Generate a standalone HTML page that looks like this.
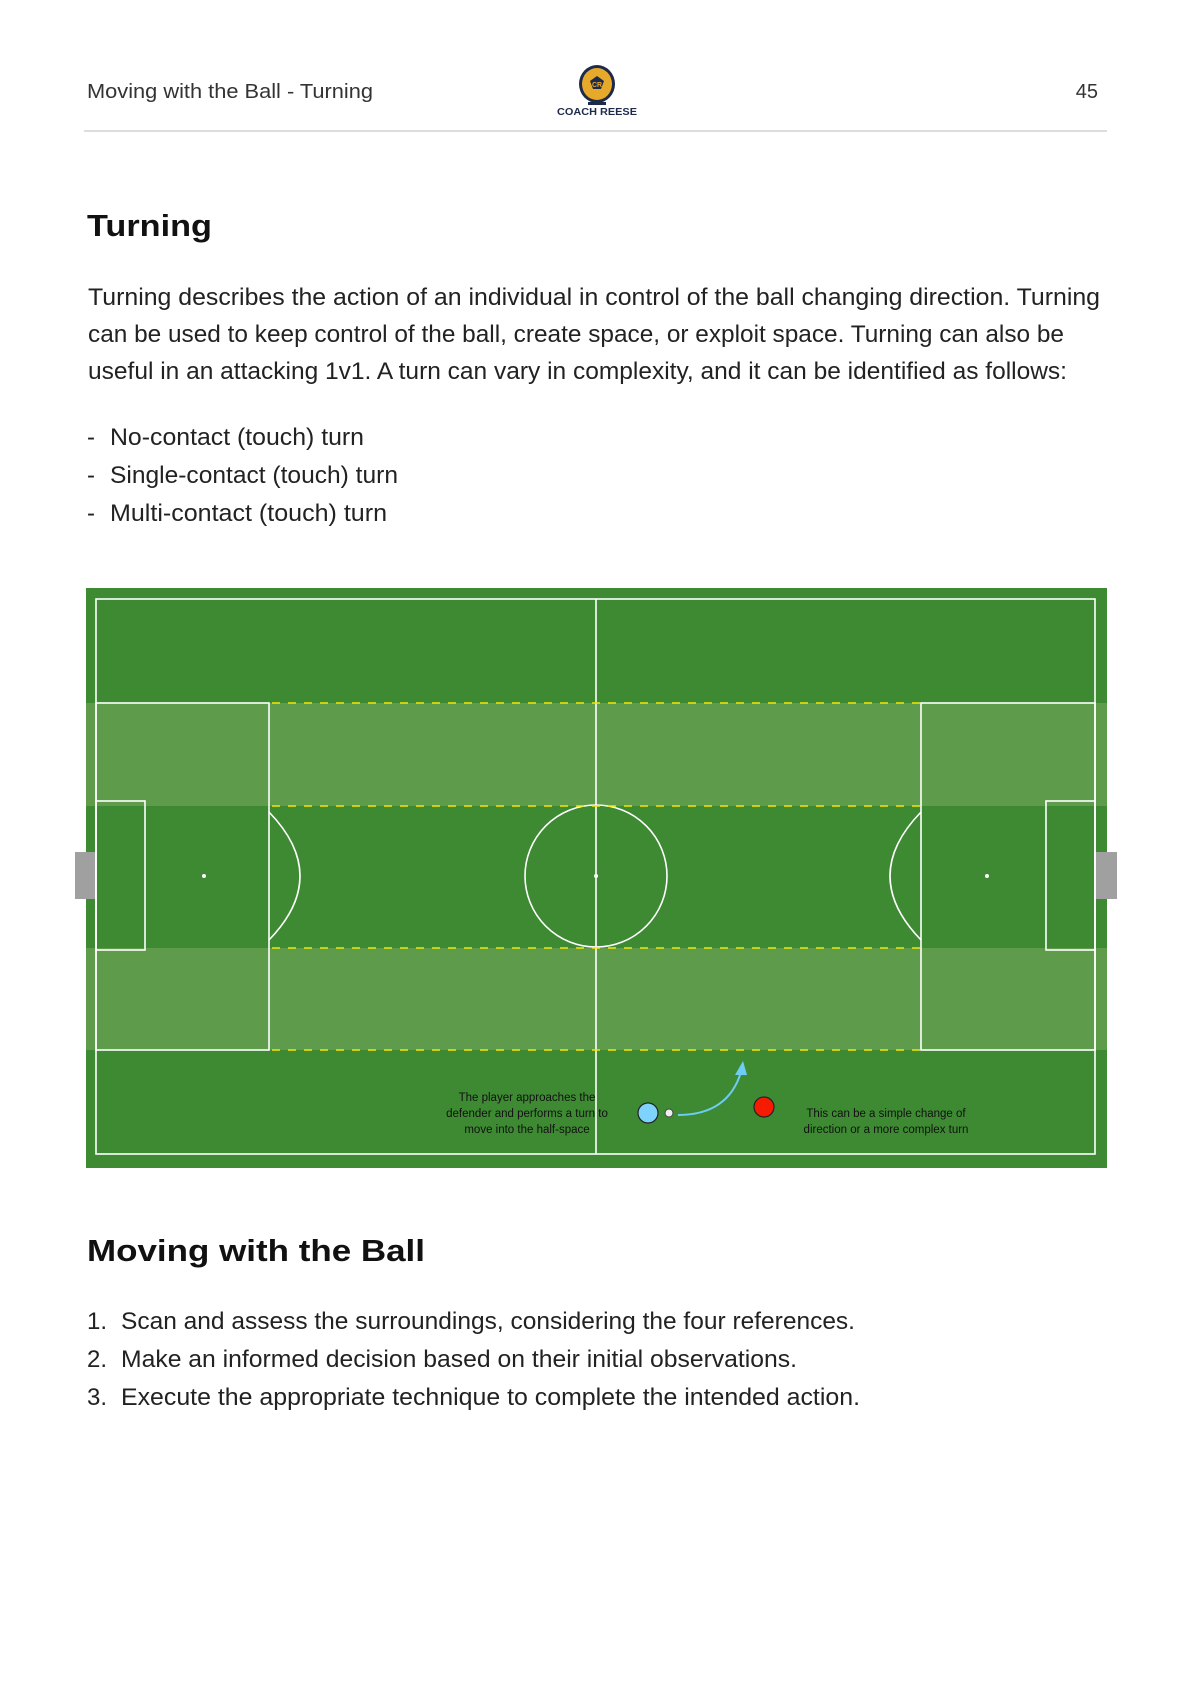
<!DOCTYPE html>
<html><head><meta charset="utf-8"><style>
html,body{margin:0;padding:0;background:#fff}
svg{display:block}
text{font-family:"Liberation Sans",sans-serif}
</style></head><body>
<svg width="1190" height="1684" viewBox="0 0 1190 1684" xmlns="http://www.w3.org/2000/svg">
<rect width="1190" height="1684" fill="#fff"/>
<!-- header -->
<text x="87" y="98" font-size="20" fill="#333" textLength="286" lengthAdjust="spacingAndGlyphs">Moving with the Ball - Turning</text>
<text x="1098" y="98" font-size="20" fill="#333" text-anchor="end">45</text>
<ellipse cx="597" cy="84" rx="18" ry="19" fill="#1e2a4a"/>
<ellipse cx="597" cy="84" rx="15" ry="16" fill="#e6a92a"/>
<polygon points="597,76 604,81 601,89 593,89 590,81" fill="#1e2a4a"/>
<text x="597" y="87" font-size="7" fill="#e6a92a" text-anchor="middle" font-weight="bold">CR</text>
<rect x="588" y="102" width="18" height="3" fill="#1e2a4a"/>
<text x="597" y="115" font-size="10" font-weight="bold" fill="#1e2a4a" text-anchor="middle" textLength="80" lengthAdjust="spacingAndGlyphs">COACH REESE</text>
<rect x="84" y="130" width="1023" height="2" fill="#ddd"/>
<!-- heading -->
<text x="87" y="236" font-size="31" font-weight="bold" fill="#111" textLength="125" lengthAdjust="spacingAndGlyphs">Turning</text>
<g font-size="24" fill="#222">
<text x="88" y="305" textLength="1012" lengthAdjust="spacingAndGlyphs">Turning describes the action of an individual in control of the ball changing direction. Turning</text>
<text x="88" y="342" textLength="976" lengthAdjust="spacingAndGlyphs">can be used to keep control of the ball, create space, or exploit space. Turning can also be</text>
<text x="88" y="379" textLength="979" lengthAdjust="spacingAndGlyphs">useful in an attacking 1v1. A turn can vary in complexity, and it can be identified as follows:</text>
<text x="87" y="445">-</text><text x="110" y="445" textLength="254" lengthAdjust="spacingAndGlyphs">No-contact (touch) turn</text>
<text x="87" y="483">-</text><text x="110" y="483" textLength="288" lengthAdjust="spacingAndGlyphs">Single-contact (touch) turn</text>
<text x="87" y="521">-</text><text x="110" y="521" textLength="277" lengthAdjust="spacingAndGlyphs">Multi-contact (touch) turn</text>
</g>
<!-- pitch -->
<rect x="86" y="588" width="1021" height="580" fill="#3e8a33"/>
<rect x="86" y="703" width="1021" height="103" fill="#5e9c4c"/>
<rect x="86" y="948" width="1021" height="102" fill="#5e9c4c"/>
<rect x="75" y="852" width="21" height="47" fill="#a0a0a0"/>
<rect x="1096" y="852" width="21" height="47" fill="#a0a0a0"/>
<g fill="none" stroke="#fff" stroke-width="1.6">
<rect x="96" y="599" width="999" height="555"/>
<line x1="596" y1="599" x2="596" y2="1154"/>
<circle cx="596" cy="876" r="71"/>
<rect x="96" y="703" width="173" height="347"/>
<rect x="921" y="703" width="174" height="347"/>
<rect x="96" y="801" width="49" height="149"/>
<rect x="1046" y="801" width="49" height="149"/>
<path d="M269,812 Q331,876 269,940"/>
<path d="M921,812 Q859,876 921,940"/>
</g>
<circle cx="596" cy="876" r="2" fill="#fff"/>
<circle cx="204" cy="876" r="2" fill="#fff"/>
<circle cx="987" cy="876" r="2" fill="#fff"/>
<g stroke="#f2e600" stroke-width="1.6" stroke-dasharray="8,8">
<line x1="272" y1="703" x2="921" y2="703"/>
<line x1="272" y1="806" x2="921" y2="806"/>
<line x1="272" y1="948" x2="921" y2="948"/>
<line x1="272" y1="1050" x2="921" y2="1050"/>
</g>
<!-- players -->
<path d="M678,1115 Q728,1115 741,1072" fill="none" stroke="#6fcdf5" stroke-width="2"/>
<polygon points="743,1061 735,1075 747,1075" fill="#6fcdf5"/>
<circle cx="648" cy="1113" r="10" fill="#7dd3fb" stroke="#222" stroke-width="1.2"/>
<circle cx="669" cy="1113" r="4" fill="#eee" stroke="#444" stroke-width="1"/>
<circle cx="764" cy="1107" r="10" fill="#f51a00" stroke="#222" stroke-width="1.2"/>
<g font-size="11.5" fill="#111" text-anchor="middle">
<text x="527" y="1101">The player approaches the</text>
<text x="527" y="1117">defender and performs a turn to</text>
<text x="527" y="1133">move into the half-space</text>
<text x="886" y="1117">This can be a simple change of</text>
<text x="886" y="1133">direction or a more complex turn</text>
</g>
<!-- second section -->
<text x="87" y="1261" font-size="31" font-weight="bold" fill="#111" textLength="338" lengthAdjust="spacingAndGlyphs">Moving with the Ball</text>
<g font-size="24" fill="#222">
<text x="87" y="1329">1.</text><text x="121" y="1329" textLength="734" lengthAdjust="spacingAndGlyphs">Scan and assess the surroundings, considering the four references.</text>
<text x="87" y="1367">2.</text><text x="121" y="1367" textLength="676" lengthAdjust="spacingAndGlyphs">Make an informed decision based on their initial observations.</text>
<text x="87" y="1405">3.</text><text x="121" y="1405" textLength="739" lengthAdjust="spacingAndGlyphs">Execute the appropriate technique to complete the intended action.</text>
</g>
</svg>
</body></html>
